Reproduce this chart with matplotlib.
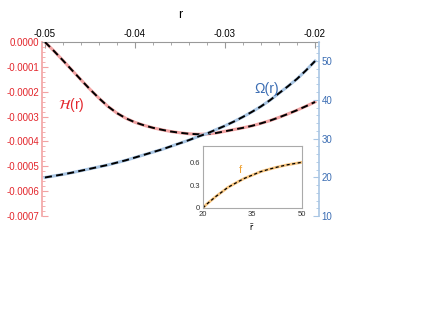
import matplotlib
matplotlib.use('Agg')
from matplotlib import pyplot as plt
from matplotlib.ticker import MultipleLocator, FormatStrFormatter

plt.rcParams['font.family'] = ['Liberation Sans', 'DejaVu Sans']
plt.rcParams['mathtext.fontset'] = 'stixsans'

# r grid of the main plot (read every 0.001)
r = [-0.050, -0.049, -0.048, -0.047, -0.046, -0.045, -0.044, -0.043, -0.042, -0.041,
     -0.040, -0.039, -0.038, -0.037, -0.036, -0.035, -0.034, -0.033, -0.032, -0.031,
     -0.030, -0.029, -0.028, -0.027, -0.026, -0.025, -0.024, -0.023, -0.022, -0.021,
     -0.020]

# H(r), left axis
h_val = [0.0, -0.000036, -0.000074, -0.000113, -0.000152, -0.000190, -0.000226, -0.000259, -0.000286, -0.000307,
         -0.000323, -0.000335, -0.000345, -0.000353, -0.000360, -0.000365, -0.000369, -0.000371, -0.000370, -0.000366,
         -0.000359, -0.000352, -0.000345, -0.000337, -0.000327, -0.000316, -0.000303, -0.000289, -0.000274, -0.000258,
         -0.000241]

# Omega(r), right axis
om_val = [19.95, 20.35, 20.75, 21.2, 21.7, 22.2, 22.7, 23.2, 23.8, 24.4,
          25.1, 25.8, 26.5, 27.2, 28.0, 28.8, 29.6, 30.5, 31.3, 32.3,
          33.3, 34.4, 35.6, 36.9, 38.3, 39.9, 41.7, 43.5, 45.4, 47.6,
          50.0]

# inset f(r bar)
rbar = [20, 21, 22.5, 24, 25.1, 27.5, 30.2, 32.5, 35.25, 37.5, 40.3, 42.5, 45.4, 47.5, 50]
f_val = [0.0, 0.045, 0.10, 0.155, 0.19, 0.27, 0.336, 0.39, 0.439, 0.48, 0.515, 0.54, 0.569, 0.585, 0.604]

red = '#e3262c'
blue = '#3b6db3'
light_red = '#f2a3a3'
light_blue = '#a9c6e4'

fig = plt.figure(figsize=(4.21, 3.14), dpi=100)
ax = fig.add_axes([0.0998, 0.312, 0.6579, 0.554])
ax2 = ax.twinx()

ax.plot(r, h_val, color=light_red, linewidth=2.2, zorder=2)
ax.plot(r, h_val, color='black', linewidth=1.4, dashes=(3.6, 2.2), zorder=3)
ax2.plot(r, om_val, color=light_blue, linewidth=2.2, zorder=2)
ax2.plot(r, om_val, color='black', linewidth=1.4, dashes=(3.6, 2.2), zorder=3)

ax.set_xlim(-0.05033, -0.01956)
ax.set_ylim(-0.0007, 0.0)
ax2.set_ylim(10, 54.9)

ax.xaxis.tick_top()
ax.xaxis.set_label_position('top')
ax.set_xlabel('r', fontsize=9, labelpad=8)
ax.xaxis.set_major_locator(MultipleLocator(0.01))
ax.xaxis.set_minor_locator(MultipleLocator(0.002))
ax.xaxis.set_major_formatter(FormatStrFormatter('%.2f'))
ax.yaxis.set_major_locator(MultipleLocator(0.0001))
ax.yaxis.set_minor_locator(MultipleLocator(0.00002))
ax.yaxis.set_major_formatter(FormatStrFormatter('%.4f'))
ax2.yaxis.set_major_locator(MultipleLocator(10))
ax2.yaxis.set_minor_locator(MultipleLocator(2))

for a in (ax, ax2):
    a.spines['bottom'].set_visible(False)
    a.set_facecolor('none')
ax.spines['right'].set_visible(False)
ax2.spines['top'].set_visible(False)
ax2.spines['left'].set_visible(False)
ax.spines['top'].set_color('#999999')
ax.spines['left'].set_color(light_red)
ax.spines['left'].set_linewidth(1.2)
ax2.spines['right'].set_color(light_blue)
ax2.spines['right'].set_linewidth(1.2)

ax.tick_params(axis='x', which='both', direction='in', colors='#999999', labelcolor='black',
               labelsize=7, pad=2, bottom=False, top=True)
ax.tick_params(axis='x', which='major', length=4)
ax.tick_params(axis='x', which='minor', length=2)
ax.tick_params(axis='y', which='both', direction='in', colors=light_red, labelcolor=red,
               labelsize=7, pad=2)
ax.tick_params(axis='y', which='major', length=4)
ax.tick_params(axis='y', which='minor', length=2)
ax2.tick_params(axis='y', which='both', direction='in', colors=light_blue, labelcolor=blue,
                labelsize=7, pad=2)
ax2.tick_params(axis='y', which='major', length=4)
ax2.tick_params(axis='y', which='minor', length=2)

ax.text(-0.0471, -0.000255, r'$\mathcal{H}$(r)', color=red, fontsize=10, ha='center', va='center')
ax2.text(-0.0254, 42.7, '\u03a9(r)', color=blue, fontsize=10, ha='center', va='center')

# inset
axi = fig.add_axes([0.482, 0.3376, 0.2346, 0.1975])
axi.plot(rbar, f_val, color='#f8c57e', linewidth=2.0)
axi.plot(rbar, f_val, color='black', linewidth=0.9, dashes=(2.5, 2.0))
axi.set_xlim(20, 50)
axi.set_ylim(0, 0.82)
axi.set_xticks([20, 35, 50])
axi.set_yticks([0, 0.3, 0.6])
axi.set_yticklabels(['0', '0.3', '0.6'])
for s in axi.spines.values():
    s.set_color('#aaaaaa')
    s.set_linewidth(0.8)
axi.tick_params(labelsize=5.5, length=0, pad=2, colors='#333333')
axi.set_xlabel(r'$\bar{\mathrm{r}}$', fontsize=7, labelpad=3)
axi.text(31.5, 0.5, 'f', color='#f0a437', fontsize=8, ha='center', va='center')

fig.savefig('out.png', dpi=100)
